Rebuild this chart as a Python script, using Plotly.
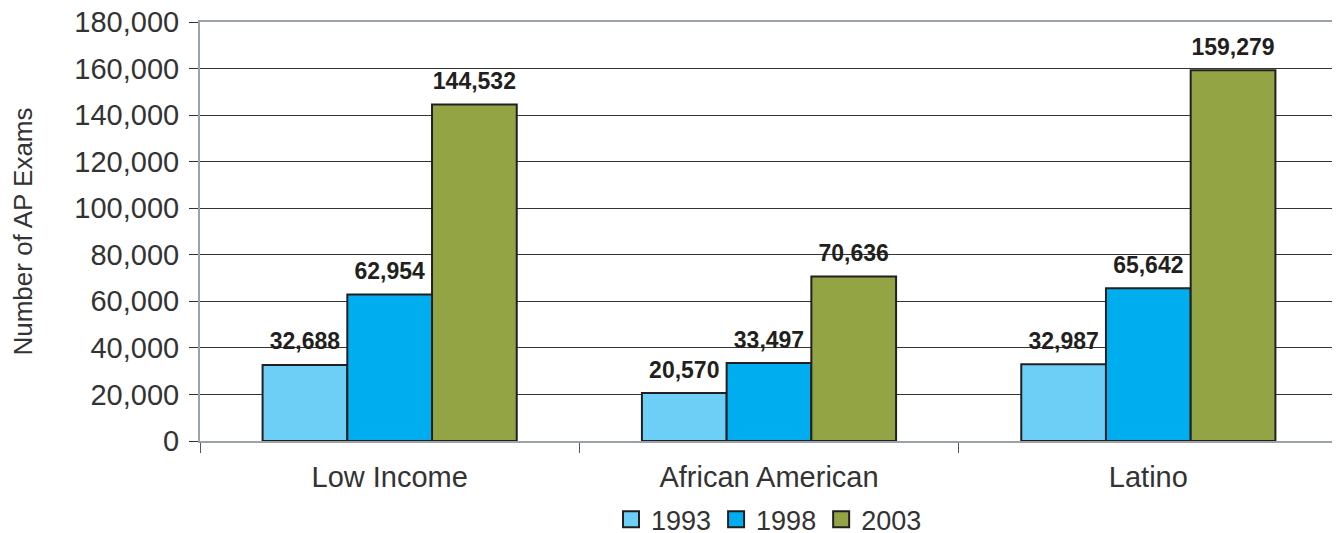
import plotly.graph_objects as go

categories = ["Low Income", "African American", "Latino"]
years = ["1993", "1998", "2003"]
values_1993 = [32688, 20570, 32987]
values_1998 = [62954, 33497, 65642]
values_2003 = [144532, 70636, 159279]
colors = ["#6dcff6", "#00aeef", "#93a445"]

y_ticks = list(range(0, 180001, 20000))

fig = go.Figure()
series = [values_1993, values_1998, values_2003]
for name, vals, col in zip(years, series, colors):
    fig.add_trace(go.Bar(
        name=name, x=categories, y=vals, showlegend=False,
        marker=dict(color=col, line=dict(color="#231f20", width=2)),
    ))
# value labels, grouped like the bars
for name, vals in zip(years, series):
    fig.add_trace(go.Scatter(
        name=name + " labels", x=categories, y=vals, mode="markers+text",
        text=[f"{v:,}" for v in vals], textposition="top center",
        marker=dict(size=14, opacity=0), showlegend=False, hoverinfo="skip",
        textfont=dict(family="Liberation Sans", size=23, color="#231f20", weight="bold"),
        cliponaxis=False,
    ))
# legend entries (on a hidden overlay axis so they don't affect grouping)
for name, col in zip(years, colors):
    fig.add_trace(go.Scatter(
        name=name, x=[None], y=[None], mode="markers", xaxis="x2", yaxis="y2",
        marker=dict(symbol="square", size=16, color=col, line=dict(color="#231f20", width=2)),
        showlegend=True,
    ))

# page has an 8px body margin; figure coordinates are page coordinates minus 8
fig.update_layout(
    width=1340, height=565,
    margin=dict(l=192, r=10, t=14, b=132),
    paper_bgcolor="white", plot_bgcolor="white",
    barmode="group", bargap=0.33, bargroupgap=0,
    scattermode="group", scattergap=0.33,
    font=dict(family="Liberation Sans", color="#333333"),
    showlegend=True,
    legend=dict(orientation="h", x=0.5, xanchor="center", y=-0.188, yanchor="middle",
                font=dict(size=27, color="#333333"), itemsizing="trace",
                traceorder="normal", bgcolor="rgba(0,0,0,0)", itemwidth=30),
    xaxis=dict(
        showline=True, linecolor="#9aa3ab", linewidth=2, mirror=True,
        ticks="outside", tickson="boundaries", ticklen=10, tickcolor="#555555", tickwidth=1,
        tickfont=dict(size=29, color="#333333"), ticklabelstandoff=9,
        showgrid=False, automargin=False, ticklabeloverflow="allow",
    ),
    yaxis=dict(
        range=[0, 180000], tickvals=y_ticks, tickformat=",",
        showline=True, linecolor="#9aa3ab", linewidth=2, mirror=True,
        ticks="outside", ticklen=9, tickcolor="#333333", tickwidth=1,
        tickfont=dict(size=29, color="#333333"), ticklabelstandoff=4,
        ticklabeloverflow="allow",
        showgrid=True, gridcolor="#333333", gridwidth=1, zeroline=False, automargin=False,
        title=dict(text="Number of AP Exams", font=dict(size=26, color="#333333"), standoff=48),
    ),
    xaxis2=dict(overlaying="x", visible=False, range=[0, 1]),
    yaxis2=dict(overlaying="y", visible=False, range=[0, 1]),
)

fig.write_html("out.html")
